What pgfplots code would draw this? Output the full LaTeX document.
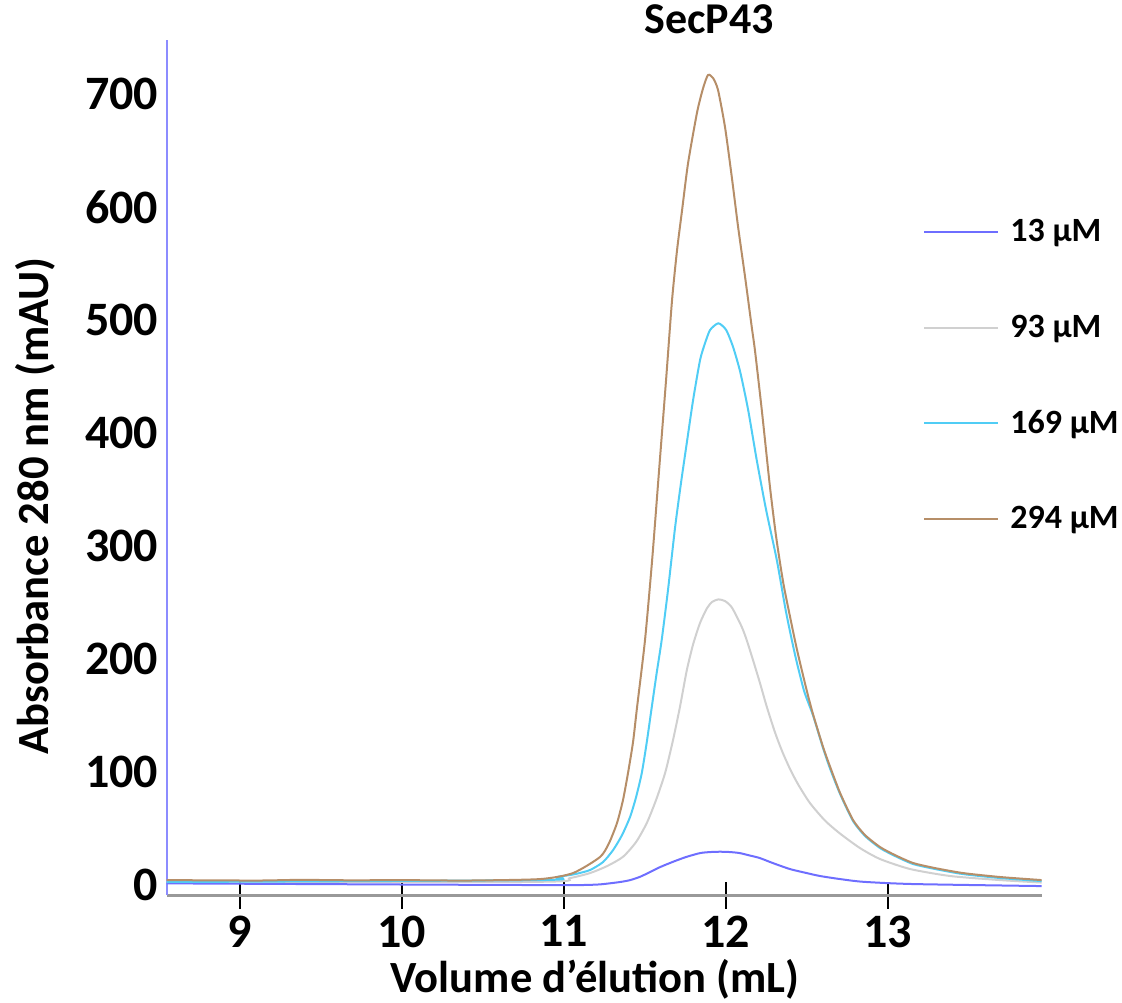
\documentclass[border=0pt]{standalone}
\usepackage{fontspec}
\setmainfont{Carlito}
\usepackage{pgfplots}
\pgfplotsset{compat=1.18}

\definecolor{cA}{RGB}{110,110,255}  % 13 uM
\definecolor{cB}{RGB}{208,208,208}  % 93 uM
\definecolor{cC}{RGB}{80,205,245}   % 169 uM
\definecolor{cD}{RGB}{182,142,104}  % 294 uM
\definecolor{yaxis}{RGB}{140,140,255}

\begin{document}
\begin{tikzpicture}
\path[use as bounding box] (0,0) rectangle (561pt,501pt);
\begin{axis}[
    at={(83.35pt,53.5pt)}, anchor=south west,
    scale only axis, width=437.5pt, height=427.5pt,
    xmin=8.548, xmax=13.952, ymin=-8.8, ymax=747.8,
    axis lines=left,
    axis line style={-},
    x axis line style={draw=black!40, line width=1.5pt},
    y axis line style={draw=yaxis, line width=1pt},
    xtick={9,10,11,12,13},
    ytick={0,100,200,300,400,500,600,700},
    tick align=center,
    major tick length=13.5pt,
    xtick style={black, line width=1pt},
    ytick style={draw=none},
    ticklabel style={font=\fontsize{24}{24}\selectfont\bfseries},
    yticklabel style={xshift=6pt},
    /pgf/number format/assume math mode=true,
    title={SecP43},
    title style={at={(axis description cs:0.62,1.0105)}, anchor=center,
        font=\fontsize{22}{22}\selectfont\bfseries},
    xlabel={Volume d’élution (mL)},
    xlabel style={at={(axis description cs:0.4895,-0.099)}, anchor=center,
        font=\fontsize{22.3}{22.3}\selectfont\bfseries},
    ylabel={Absorbance 280 nm (mAU)},
    ylabel style={at={(axis description cs:-0.1505,0.455)}, anchor=center,
        font=\fontsize{22.3}{22.3}\selectfont\bfseries},
    legend style={at={(axis description cs:0.8643,0.6074)}, anchor=west,
        draw=none, fill=none, inner sep=0pt,
        font=\fontsize{17}{17}\selectfont\bfseries,
        row sep=31pt},
    legend cell align=left,
    legend image code/.code={\draw[#1] (0pt,0pt) -- (37pt,0pt); \path (40.5pt,0pt);},
    every axis plot/.append style={line width=1pt, smooth, tension=0.4},
]
% 13 uM
\addplot[cA] coordinates {
    (8.548,1.5) (9.989,0.5) (10.854,0) (11.101,0) (11.224,0.6) (11.348,2.7)
    (11.410,4.4) (11.471,7.3) (11.533,11.5) (11.595,15.9) (11.675,20.6)
    (11.755,24.8) (11.842,28.3) (11.904,29.2) (11.966,29.5) (12.028,29.2)
    (12.087,28.3) (12.151,26.1) (12.211,23.9) (12.291,19.5) (12.396,14.2)
    (12.501,10.6) (12.583,8.0) (12.707,5.3) (12.849,2.9) (13.158,0.9)
    (13.952,-0.9)
};
\addlegendentry{13 µM}
% 93 uM
\addplot[cB] coordinates {
    (8.548,3.1) (10.854,2.9) (11.039,6.2) (11.162,10.6) (11.268,16.8)
    (11.366,25.0) (11.447,38.1) (11.513,54.9) (11.570,75.2) (11.626,99.1)
    (11.675,128.3) (11.718,157.8) (11.760,190) (11.799,213) (11.842,232)
    (11.885,245) (11.916,250.5) (11.955,252.8) (11.996,251.3) (12.039,245.5)
    (12.099,228.6) (12.130,216.8) (12.169,199.1) (12.212,178.8) (12.254,157.8)
    (12.305,135) (12.350,118) (12.400,102) (12.450,88.5) (12.521,72.5)
    (12.614,57) (12.707,45.5) (12.830,32.7) (12.954,23.0) (13.139,14.2)
    (13.387,8.0) (13.696,4.4) (13.952,2.2)
};
\addlegendentry{93 µM}
% 169 uM
\addplot[cC] coordinates {
    (8.548,2.7) (10.854,4.4) (10.957,7.1) (11.070,9.7) (11.162,13.3)
    (11.243,20.4) (11.305,31.0) (11.360,44.2) (11.410,60.4) (11.447,77.9)
    (11.482,99.1) (11.513,126.5) (11.544,157.8) (11.574,187.6) (11.605,216.8)
    (11.644,261.1) (11.688,316.8) (11.725,356.6) (11.760,391.2) (11.799,429.2)
    (11.842,464.6) (11.873,479.6) (11.904,491.2) (11.955,497.1) (12.003,491.2)
    (12.046,476.1) (12.090,454.0) (12.139,420.4) (12.192,376.1) (12.250,331.9)
    (12.316,287.6) (12.373,241.6) (12.429,203.5) (12.484,172) (12.540,150)
    (12.602,121) (12.645,103) (12.707,80.5) (12.787,56.6) (12.861,43.4)
    (12.954,32.7) (13.046,25.7) (13.158,18.6) (13.294,14.2) (13.467,9.7)
    (13.696,6.2) (13.952,3.5)
};
\addlegendentry{169 µM}
% 294 uM
\addplot[cD] coordinates {
    (8.548,4.4) (9.1,4.0) (9.371,4.6) (9.7,4.2) (9.989,4.4) (10.4,4.0)
    (10.854,5.3) (11.057,10.6) (11.224,24.8) (11.280,37.2) (11.329,54.9)
    (11.366,75.2) (11.397,99.1) (11.428,126.5) (11.453,157.5) (11.502,216.8)
    (11.546,287.6) (11.589,367.3) (11.632,446.9) (11.669,517.7) (11.700,562.0)
    (11.731,597.3) (11.768,638.9) (11.824,684.1) (11.861,705.3) (11.891,716.8)
    (11.922,714.2) (11.953,703.5) (11.996,670.8) (12.038,626.5) (12.077,582.3)
    (12.120,538.1) (12.161,494) (12.182,472) (12.225,418) (12.274,352)
    (12.312,308) (12.355,268.1) (12.398,237.2) (12.441,208) (12.501,172)
    (12.540,151) (12.602,122) (12.645,104.7) (12.707,81.4) (12.787,57.5)
    (12.861,44.2) (12.954,33.6) (13.046,26.5) (13.158,19.5) (13.294,15.0)
    (13.467,10.6) (13.696,7.1) (13.952,4.4)
};
\addlegendentry{294 µM}
\end{axis}
\end{tikzpicture}
\end{document}
